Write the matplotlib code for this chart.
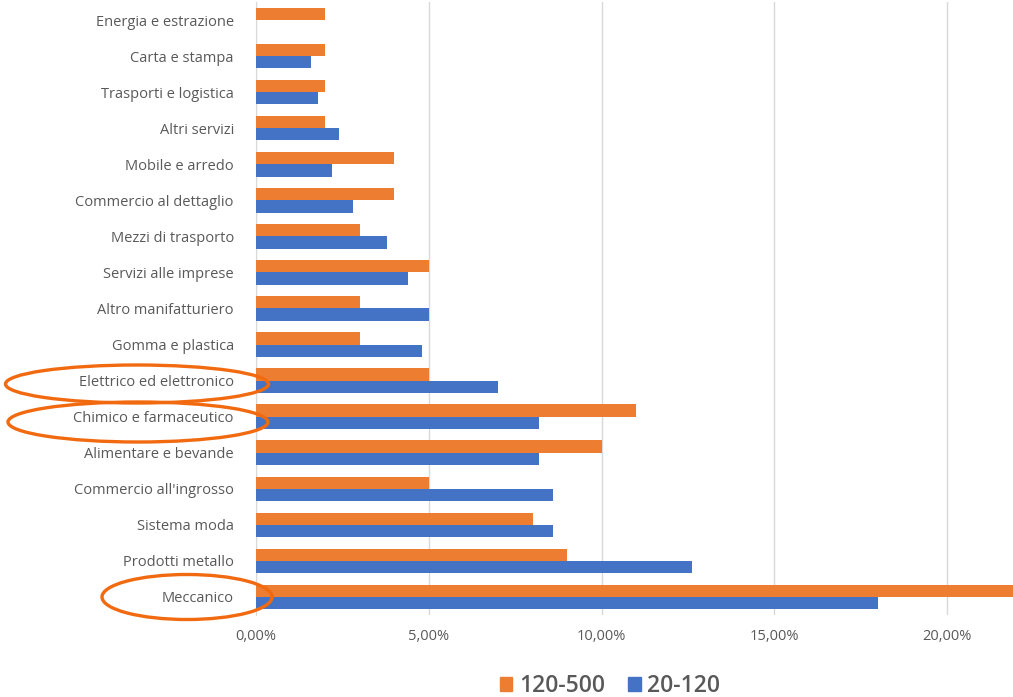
import matplotlib.pyplot as plt
import numpy as np
from matplotlib.patches import Ellipse, Patch

categories = ['Energia e estrazione', 'Carta e stampa', 'Trasporti e logistica', 'Altri servizi',
              'Mobile e arredo', 'Commercio al dettaglio', 'Mezzi di trasporto', 'Servizi alle imprese',
              'Altro manifatturiero', 'Gomma e plastica', 'Elettrico ed elettronico',
              'Chimico e farmaceutico', 'Alimentare e bevande', "Commercio all'ingrosso",
              'Sistema moda', 'Prodotti metallo', 'Meccanico']
big = [2.0, 2.0, 2.0, 2.0, 4.0, 4.0, 3.0, 5.0, 3.0, 3.0, 5.0, 11.0, 10.0, 5.0, 8.0, 9.0, 22.5]
small = [0.0, 1.6, 1.8, 2.4, 2.2, 2.8, 3.8, 4.4, 5.0, 4.8, 7.0, 8.2, 8.2, 8.6, 8.6, 12.6, 18.0]
series_names = ['120-500', '20-120']
xticks = [0, 5, 10, 15, 20]

ORANGE = '#ED7D31'
BLUE = '#4472C4'
GREY = '#595959'

plt.rcParams['font.family'] = ['Open Sans', 'DejaVu Sans']

fig = plt.figure(figsize=(10.13, 6.97), dpi=100)
ax = fig.add_axes([256/1013, 1 - 615/697, 1 - 256/1013, 613/697])

y = np.arange(len(categories))
h = 0.34
ax.barh(y - h/2, big, height=h, color=ORANGE, zorder=3)
ax.barh(y + h/2, small, height=h, color=BLUE, zorder=3)

ax.set_ylim(len(categories) - 0.5, -0.5)
ax.set_xlim(0, 21.9)
ax.set_yticks(y)
ax.set_yticklabels(categories, fontsize=10.5, color=GREY)
ax.set_xticks(xticks)
ax.set_xticklabels([('%.2f%%' % v).replace('.', ',') for v in xticks], fontsize=10.5, color=GREY)
ax.tick_params(axis='x', length=0, pad=10)
ax.tick_params(axis='y', length=0, pad=16)
ax.grid(axis='x', color='#d9d9d9', linewidth=1, zorder=0)
for s in ['top', 'right', 'bottom']:
    ax.spines[s].set_visible(False)
ax.spines['left'].set_color('#d9d9d9')

handles = [Patch(color=ORANGE), Patch(color=BLUE)]
leg = fig.legend(handles, series_names, loc='center', bbox_to_anchor=(610/1013, 1 - 686/697),
                 ncol=2, frameon=False, fontsize=16.5, handlelength=0.55, handleheight=0.55,
                 handletextpad=0.3, columnspacing=1.0)
for t in leg.get_texts():
    t.set_color(GREY)
    t.set_fontweight('semibold')

# hand-drawn ellipses around highlighted sectors (in pixel coords of the figure)
ellipses = [(137, 384, 263, 38), (138, 422, 260, 40), (187, 597, 170, 45)]
for cx, cy, w, hh in ellipses:
    e = Ellipse((cx/1013, 1 - cy/697), w/1013, hh/697, transform=fig.transFigure,
                fill=False, edgecolor='#F26A10', linewidth=2.4, clip_on=False)
    fig.add_artist(e)

fig.savefig('out.png', dpi=100)
